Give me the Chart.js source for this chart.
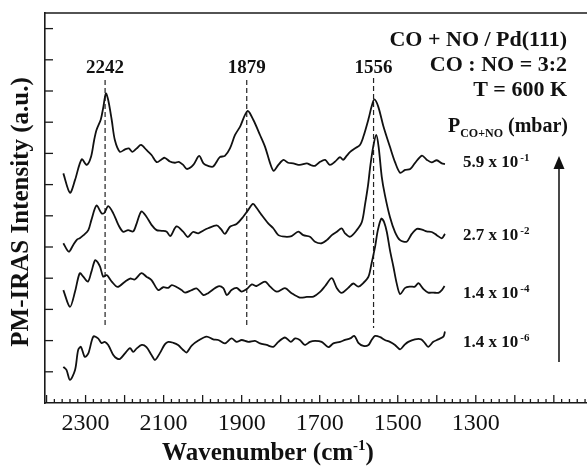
<!DOCTYPE html>
<html>
<head>
<meta charset="utf-8">
<script src="https://cdn.jsdelivr.net/npm/chart.js@4/dist/chart.umd.min.js"></script>
<style>
  html, body { margin: 0; padding: 0; background: #fff; }
  #wrap { width: 587px; height: 466px; }
</style>
</head>
<body>
<div id="wrap"><canvas id="spectra" width="587" height="466"></canvas></div>
<script>
/* =================================================================
    Data (wavenumber in cm-1, intensity in a.u., curves already offset)
================================================================= */

// P = 5.9 x 10^-1 mbar
var wnP1 = [2357,2340,2327,2310,2297,2286,2278,2272,2261,2255,2248,2242,2233,2225,2212,2199,2189,2180,2169,2158,
            2144,2131,2118,2107,2097,2084,2071,2061,2050,2040,2024,2009,1998,1986,1973,1956,1943,1930,1917,1904,
            1885,1870,1853,1840,1827,1818,1806,1793,1781,1768,1751,1733,1722,1712,1699,1686,1674,1661,1648,1640,
            1631,1622,1610,1597,1588,1575,1567,1560,1550,1537,1520,1507,1494,1481,1468,1456,1438,1426,1413,1400,
            1387,1379];
var intP1 = [7.36,6.74,7.15,7.81,7.63,7.89,8.43,8.75,9.09,9.45,9.92,9.71,9.07,8.43,8.05,8.13,8.16,8.05,8.16,8.27,
             8.11,7.95,7.72,7.79,7.86,7.74,7.70,7.73,7.63,7.50,7.63,7.92,7.68,7.60,7.58,7.88,7.92,8.16,8.59,8.86,
             9.36,9.07,8.59,8.21,7.68,7.44,7.63,7.79,7.70,7.68,7.63,7.68,7.62,7.60,7.73,7.79,7.63,7.73,7.88,7.79,
             7.92,8.05,8.16,8.27,8.54,9.10,9.50,9.73,9.50,8.88,8.21,7.72,7.38,7.47,7.50,7.69,7.93,7.80,7.71,7.78,
             7.68,7.66];

// P = 2.7 x 10^-2 mbar
var wnP2 = [2357,2343,2332,2322,2315,2306,2293,2285,2272,2259,2252,2242,2229,2216,2204,2191,2178,2169,2157,2144,
            2131,2118,2105,2092,2083,2067,2050,2038,2025,2011,1998,1986,1964,1953,1943,1930,1913,1896,1883,1871,
            1861,1849,1832,1819,1806,1789,1772,1755,1742,1725,1712,1695,1682,1669,1656,1644,1635,1622,1605,1592,
            1584,1576,1571,1563,1555,1549,1541,1533,1520,1507,1494,1477,1464,1451,1438,1426,1413,1400,1387,1379];
var intP2 = [5.12,4.85,5.06,5.24,5.28,5.37,5.54,5.87,6.33,6.08,6.09,6.31,6.08,5.71,5.49,5.54,5.50,5.76,6.14,5.97,
             5.71,5.54,5.52,5.49,5.35,5.66,5.49,5.32,5.48,5.44,5.53,5.60,5.69,5.57,5.42,5.65,5.74,5.97,6.19,6.38,
             6.24,6.03,5.76,5.60,5.38,5.33,5.35,5.49,5.38,5.33,5.17,5.12,5.22,5.38,5.49,5.60,5.44,5.33,5.54,5.80,
             6.35,6.99,7.53,8.21,8.59,8.21,7.25,6.67,5.96,5.48,5.22,5.17,5.42,5.58,5.56,5.50,5.48,5.38,5.28,5.42];

// P = 1.4 x 10^-4 mbar
var wnP3 = [2357,2340,2327,2315,2306,2294,2285,2275,2263,2255,2246,2233,2218,2199,2186,2174,2157,2144,2131,2114,
            2101,2088,2079,2067,2054,2045,2028,2015,1998,1986,1960,1947,1938,1926,1913,1900,1887,1874,1862,1840,
            1827,1810,1789,1772,1751,1733,1716,1699,1686,1669,1656,1644,1627,1614,1601,1588,1575,1567,1558,1551,
            1542,1535,1528,1520,1511,1503,1494,1481,1468,1456,1447,1434,1422,1409,1396,1387,1380];
var intP3 = [3.62,3.08,3.57,4.16,4.05,3.89,4.21,4.58,4.37,4.05,4.10,3.89,3.72,3.89,3.99,3.96,4.16,4.05,3.94,3.62,
             3.71,3.69,3.78,3.72,3.62,3.54,3.62,3.67,3.46,3.52,3.74,3.68,3.46,3.62,3.69,3.57,3.65,3.80,3.75,3.89,
             3.73,3.57,3.68,3.52,3.38,3.40,3.41,3.56,3.75,4.00,3.68,3.53,3.69,3.83,3.73,3.85,4.05,4.48,5.01,5.54,
             5.91,5.80,5.48,4.90,4.36,3.85,3.49,3.69,3.73,3.73,3.84,3.65,3.54,3.54,3.53,3.62,3.75];

// P = 1.4 x 10^-6 mbar
var wnP4 = [2357,2349,2340,2327,2319,2312,2302,2293,2280,2268,2259,2251,2242,2229,2220,2212,2199,2186,2178,2169,
            2156,2144,2131,2122,2110,2097,2088,2075,2063,2050,2041,2028,2011,1990,1973,1960,1943,1926,1913,1900,
            1883,1866,1853,1836,1819,1806,1789,1774,1763,1751,1738,1725,1712,1695,1678,1665,1648,1635,1622,1611,
            1601,1588,1575,1567,1558,1545,1533,1520,1507,1494,1483,1473,1456,1440,1430,1422,1409,1396,1383,1379];
var intP4 = [1.16,1.06,0.74,1.06,1.70,1.80,1.48,1.59,2.13,2.07,1.92,1.96,1.86,1.54,1.43,1.41,1.59,1.76,1.64,1.75,
             1.86,1.79,1.54,1.38,1.59,1.88,1.96,1.93,1.86,1.70,1.62,1.84,2.00,2.13,2.04,2.02,1.91,2.07,1.96,2.02,
             1.96,1.99,1.91,1.86,1.80,1.96,2.10,1.96,2.07,2.02,1.86,1.96,1.99,1.96,1.79,1.91,1.96,2.02,2.07,2.15,
             1.93,1.83,1.86,2.02,2.15,2.11,2.02,1.96,1.86,1.72,1.86,1.96,2.04,2.04,1.91,1.80,1.96,2.04,2.13,2.29];

// pressure labels, top to bottom
var pressureBase = ["5.9 x 10", "2.7 x 10", "1.4 x 10", "1.4 x 10"];
var pressureExp  = ["-1", "-2", "-4", "-6"];
var pressureAt   = [7.70, 5.35, 3.50, 1.92];   // intensity level of each label

// dashed peak markers
var peakPos    = [2250, 1887, 1562];
var peakLabels = ["2242", "1879", "1556"];
var peakTop    = [10.35, 10.35, 10.42];
var peakBottom = 2.40;

// axis ticks
var xTickLabels = [2300, 2100, 1900, 1700, 1500, 1300];
var xMin = 1015, xMax = 2404;
var yMax = 12.5;

var headerLines = ["CO + NO / Pd(111)", "CO : NO = 3:2", "T = 600 K"];

/* =================================================================
    Chart
================================================================= */

var SERIF = "'Liberation Serif', 'Times New Roman', serif";

function toPoints(xs, ys) {
    return xs.map(function (v, i) { return { x: v, y: ys[i] }; });
}

var curveStyle = {
    borderColor: "#111",
    borderWidth: 1.8,
    pointRadius: 0,
    tension: 0.3,
    fill: false
};

var datasets = [
    Object.assign({ data: toPoints(wnP1, intP1) }, curveStyle),
    Object.assign({ data: toPoints(wnP2, intP2) }, curveStyle),
    Object.assign({ data: toPoints(wnP3, intP3) }, curveStyle),
    Object.assign({ data: toPoints(wnP4, intP4) }, curveStyle)
];

peakPos.forEach(function (p, i) {
    datasets.push({
        data: [{ x: p, y: peakTop[i] }, { x: p, y: peakBottom }],
        borderColor: "#222",
        borderWidth: 1.2,
        borderDash: [5, 3],
        pointRadius: 0,
        tension: 0
    });
});

function line(ctx, x1, y1, x2, y2) {
    ctx.beginPath();
    ctx.moveTo(x1, y1);
    ctx.lineTo(x2, y2);
    ctx.stroke();
}

var overlay = {
    id: "overlay",
    afterDraw: function (chart) {
        var ctx = chart.ctx, a = chart.chartArea;
        var x = chart.scales.x, y = chart.scales.y;
        ctx.save();
        ctx.strokeStyle = "#1a1a1a";
        ctx.fillStyle = "#111";
        ctx.lineWidth = 1.6;

        // top frame line
        line(ctx, a.left, a.top, a.right, a.top);

        // inward ticks on x axis (major every 100, minor every 20)
        ctx.lineWidth = 1.3;
        for (var v = 1020; v < xMax; v += 20) {
            var px = x.getPixelForValue(v);
            var len = (v % 100 === 0) ? 8 : 4;
            line(ctx, px, a.bottom, px, a.bottom - len);
        }
        // inward ticks on y axis
        for (var k = 1; k <= 12; k++) {
            var py = y.getPixelForValue(k);
            line(ctx, a.left, py, a.left + 8, py);
        }

        // peak labels
        ctx.font = "bold 19px " + SERIF;
        ctx.textAlign = "center";
        ctx.textBaseline = "middle";
        peakPos.forEach(function (p, i) {
            ctx.fillText(peakLabels[i], x.getPixelForValue(p), 68);
        });

        // header text
        ctx.font = "bold 22px " + SERIF;
        ctx.textAlign = "right";
        headerLines.forEach(function (t, i) {
            ctx.fillText(t, 567, 40 + i * 25);
        });

        // P_CO+NO (mbar)
        ctx.textAlign = "left";
        ctx.textBaseline = "alphabetic";
        var big = "bold 20px " + SERIF, small = "bold 12px " + SERIF;
        ctx.font = big;
        var wP = ctx.measureText("P").width, wM = ctx.measureText(" (mbar)").width;
        ctx.font = small;
        var wS = ctx.measureText("CO+NO").width;
        var sx = 568 - (wP + wS + wM);
        ctx.font = big;
        ctx.fillText("P", sx, 132);
        ctx.font = small;
        ctx.fillText("CO+NO", sx + wP, 137);
        ctx.font = big;
        ctx.fillText(" (mbar)", sx + wP + wS, 132);

        // pressure labels
        ctx.textBaseline = "middle";
        pressureBase.forEach(function (t, i) {
            var yc = y.getPixelForValue(pressureAt[i]);
            ctx.font = "bold 17px " + SERIF;
            ctx.fillText(t, 463, yc);
            var w = ctx.measureText(t).width;
            ctx.font = "bold 11px " + SERIF;
            ctx.fillText(pressureExp[i], 463 + w + 2, yc - 5);
        });

        // arrow
        ctx.lineWidth = 1.6;
        line(ctx, 559, 362, 559, 166);
        ctx.beginPath();
        ctx.moveTo(559, 156);
        ctx.lineTo(564.5, 169);
        ctx.lineTo(553.5, 169);
        ctx.closePath();
        ctx.fill();

        // y title
        ctx.save();
        ctx.translate(22, 212);
        ctx.rotate(-Math.PI / 2);
        ctx.font = "bold 25px " + SERIF;
        ctx.textAlign = "center";
        ctx.textBaseline = "middle";
        ctx.fillText("PM-IRAS Intensity (a.u.)", 0, 0);
        ctx.restore();

        // x title with superscript
        ctx.textAlign = "left";
        ctx.textBaseline = "alphabetic";
        var t1 = "Wavenumber (cm", t2 = "-1", t3 = ")";
        ctx.font = "bold 25px " + SERIF;
        var w1 = ctx.measureText(t1).width, w3 = ctx.measureText(t3).width;
        ctx.font = "bold 15px " + SERIF;
        var w2 = ctx.measureText(t2).width;
        var tx = 268 - (w1 + w2 + w3) / 2;
        ctx.font = "bold 25px " + SERIF;
        ctx.fillText(t1, tx, 460);
        ctx.font = "bold 15px " + SERIF;
        ctx.fillText(t2, tx + w1, 450);
        ctx.font = "bold 25px " + SERIF;
        ctx.fillText(t3, tx + w1 + w2, 460);

        ctx.restore();
    }
};

var ctx = document.getElementById("spectra");

var myChart = new Chart(ctx, {
    type: "line",
    data: { datasets: datasets },
    options: {
        responsive: false,
        animation: false,
        layout: { padding: { top: 13, left: 0, right: 0, bottom: 0 } },
        plugins: {
            legend: { display: false },
            tooltip: { enabled: false }
        },
        scales: {
            x: {
                type: "linear",
                reverse: true,
                min: xMin,
                max: xMax,
                afterBuildTicks: function (scale) {
                    scale.ticks = xTickLabels.map(function (v) { return { value: v }; });
                },
                afterFit: function (scale) { scale.height = 63; },
                grid: { display: false, drawTicks: false },
                border: { display: true, color: "#1a1a1a", width: 1.6 },
                ticks: {
                    autoSkip: false,
                    maxRotation: 0,
                    minRotation: 0,
                    padding: 6,
                    color: "#111",
                    font: { family: SERIF, size: 24 },
                    callback: function (v) { return String(v); }
                }
            },
            y: {
                type: "linear",
                min: 0,
                max: yMax,
                afterFit: function (scale) { scale.width = 45; },
                grid: { display: false, drawTicks: false },
                border: { display: true, color: "#1a1a1a", width: 1.6 },
                ticks: { display: false }
            }
        }
    },
    plugins: [overlay]
});
</script>
</body>
</html>
